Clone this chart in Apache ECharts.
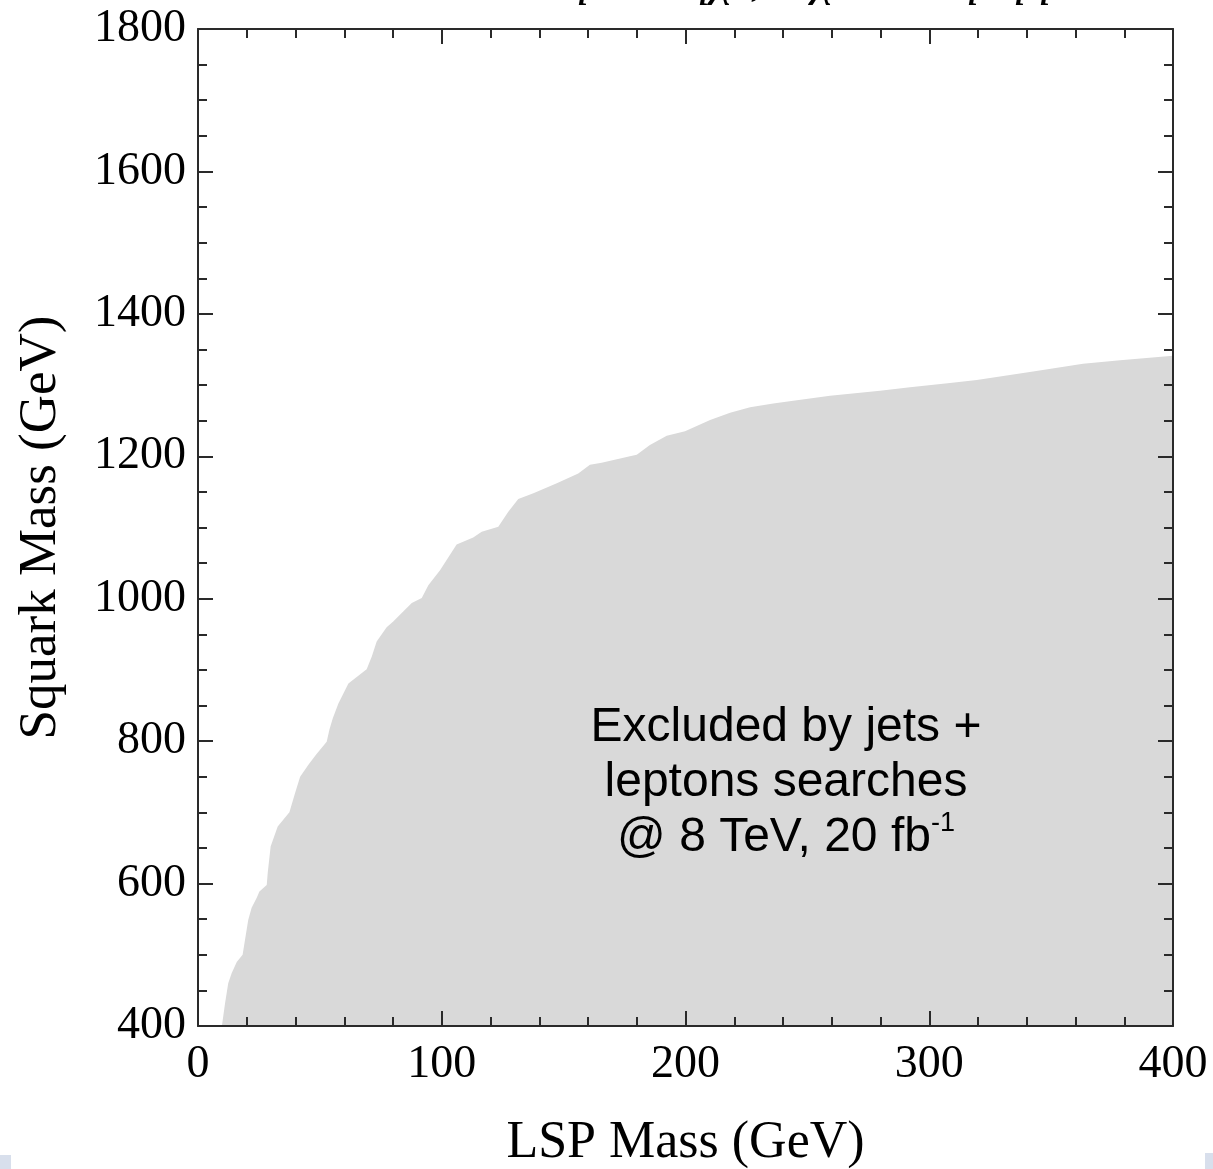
<!DOCTYPE html>
<html>
<head>
<meta charset="utf-8">
<title>Squark vs LSP mass exclusion</title>
<script src="https://cdn.jsdelivr.net/npm/echarts@6/dist/echarts.min.js"></script>
<style>
  html, body { margin: 0; padding: 0; background: #ffffff; overflow: hidden; }
  #chart { width: 1213px; height: 1169px; }
</style>
</head>
<body>
<div id="chart"></div>
<script>
// LSP mass (GeV) along the exclusion boundary
const lspMass = [9.8, 11.1, 12.4, 13.8, 15.9, 18.3, 20.6, 22.0, 24.1, 25.2,
  28.2, 28.6, 29.8, 30.7, 32.7, 37.5, 39.8, 41.9, 45.3, 48.4,
  52.8, 53.9, 55.3, 57.6, 61.7, 69.2, 71.3, 73.3, 77.4, 80.1,
  84.2, 87.7, 91.8, 94.5, 99.3, 106.1, 112.9, 116.4, 123.2, 127.3,
  131.4, 137.6, 147.2, 156.0, 160.8, 165.6, 177.2, 180.0, 185.4, 192.3,
  199.8, 210.1, 218.3, 226.5, 236.0, 244.2, 259.3, 279.8, 292.1, 308.5,
  319.5, 342.6, 363.1, 378.3, 400];

// Excluded squark mass (GeV) at each LSP mass above
const squarkLimit = [400, 432, 460, 474, 490, 500, 549, 566, 580, 589,
  598, 615, 652, 661, 680, 700, 727, 750, 767, 781,
  799, 816, 832, 853, 881, 901, 919, 940, 960, 968,
  982, 994, 1001, 1019, 1040, 1076, 1086, 1094, 1101, 1122,
  1140, 1148, 1162, 1176, 1188, 1191, 1200, 1202, 1216, 1229,
  1235, 1251, 1261, 1269, 1274, 1278, 1285, 1292, 1297, 1303,
  1307, 1319, 1330, 1335, 1341];

// Axis tick labels
const xTicks = [0, 100, 200, 300, 400];
const yTicks = [400, 600, 800, 1000, 1200, 1400, 1600, 1800];

const boundary = lspMass.map((m, i) => [m, squarkLimit[i]]);

const serif = "'Liberation Serif', 'DejaVu Serif', serif";
const sans = "'Liberation Sans', Arial, sans-serif";
const frameColor = '#2a2a2a';

function frameAxis(base, showLabels) {
  return Object.assign({
    type: 'value',
    z: 5,
    axisLine: { show: true, onZero: false, lineStyle: { color: frameColor, width: 2 } },
    axisTick: { show: true, inside: true, length: 15, lineStyle: { color: frameColor, width: 2 } },
    minorTick: { show: true, length: 9, lineStyle: { color: frameColor, width: 2 } },
    splitLine: { show: false },
    minorSplitLine: { show: false },
    axisLabel: { show: showLabels }
  }, base);
}

const xStep = xTicks[1] - xTicks[0];
const yStep = yTicks[1] - yTicks[0];

// pieces of the decay-chain heading that sits on the top edge
const headingParts = [
  [565, 'q\u0303 \u2192'],
  [686, 'q\u03c7\u0303\u2070,'],
  [812, '\u03c7\u0303\u2070 \u2192'],
  [955, 'q\u2113'],
  [1002, 'qq']
];

const option = {
  animation: false,
  backgroundColor: '#ffffff',
  grid: {
    left: 198, width: 975, top: 29, height: 997,
    containLabel: false, outerBoundsMode: 'none', show: false
  },
  xAxis: [
    frameAxis({
      position: 'bottom',
      min: xTicks[0], max: xTicks[xTicks.length - 1], interval: xStep,
      minorTick: { show: true, splitNumber: 5, length: 9, lineStyle: { color: frameColor, width: 2 } },
      axisLabel: {
        show: true, margin: 16, color: '#000', fontFamily: serif, fontSize: 46,
        showMinLabel: true, showMaxLabel: true,
        formatter: v => String(v)
      },
      name: 'LSP Mass (GeV)',
      nameLocation: 'middle',
      nameGap: 91,
      nameTextStyle: { color: '#000', fontFamily: serif, fontSize: 52 }
    }, true),
    frameAxis({
      position: 'top',
      min: xTicks[0], max: xTicks[xTicks.length - 1], interval: xStep,
      minorTick: { show: true, splitNumber: 5, length: 9, lineStyle: { color: frameColor, width: 2 } }
    }, false)
  ],
  yAxis: [
    frameAxis({
      position: 'left',
      min: yTicks[0], max: yTicks[yTicks.length - 1], interval: yStep,
      minorTick: { show: true, splitNumber: 4, length: 9, lineStyle: { color: frameColor, width: 2 } },
      axisLabel: {
        show: true, margin: 12, color: '#000', fontFamily: serif, fontSize: 46,
        showMinLabel: true, showMaxLabel: true,
        formatter: v => String(v)
      },
      name: 'Squark Mass (GeV)',
      nameLocation: 'middle',
      nameGap: 130,
      nameTextStyle: { color: '#000', fontFamily: serif, fontSize: 53 }
    }, true),
    frameAxis({
      position: 'right',
      min: yTicks[0], max: yTicks[yTicks.length - 1], interval: yStep,
      minorTick: { show: true, splitNumber: 4, length: 9, lineStyle: { color: frameColor, width: 2 } }
    }, false)
  ],
  series: [{
    type: 'line',
    xAxisIndex: 0,
    yAxisIndex: 0,
    data: boundary,
    symbol: 'none',
    smooth: false,
    z: 2,
    lineStyle: { width: 0, color: '#d9d9d9' },
    areaStyle: { color: '#d9d9d9', opacity: 1, origin: 'start' }
  }],
  graphic: headingParts.map(([x, t]) => ({
    type: 'text',
    left: x,
    top: -44,
    z: 10,
    style: { text: t, font: "italic 50px 'Liberation Serif', serif", fill: '#000' }
  })).concat([
    {
      type: 'text',
      x: 786,
      y: 783,
      z: 10,
      style: {
        text: 'Excluded by jets +\nleptons searches\n@ 8 TeV, 20 fb{sup|-1}',
        font: "48px " + sans,
        fontSize: 48,
        fontFamily: sans,
        lineHeight: 55,
        align: 'center',
        verticalAlign: 'middle',
        fill: '#000',
        rich: {
          sup: {
            fontSize: 27,
            fontFamily: sans,
            lineHeight: 34,
            verticalAlign: 'top',
            fill: '#000'
          }
        }
      }
    },
    // slide-background slivers at the lower corners
    { type: 'rect', shape: { x: 0, y: 1155, width: 11, height: 14 }, style: { fill: '#d8dfec' }, z: 1 },
    { type: 'rect', shape: { x: 1205, y: 1153, width: 8, height: 16 }, style: { fill: '#d8dfec' }, z: 1 }
  ])
};

const chart = echarts.init(document.getElementById('chart'), null, { renderer: 'canvas' });
chart.setOption(option);
</script>
</body>
</html>
